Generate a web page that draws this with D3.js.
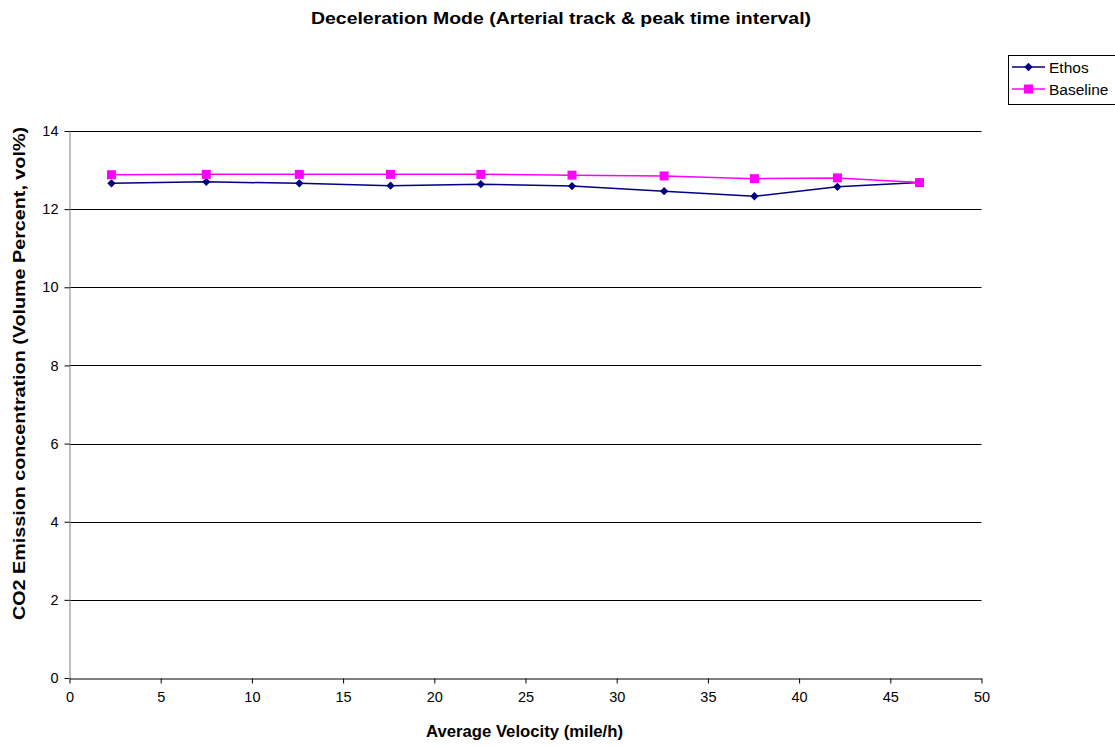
<!DOCTYPE html>
<html>
<head>
<meta charset="utf-8">
<script src="https://cdn.jsdelivr.net/npm/d3@7"></script>
<style>
  html, body { margin: 0; padding: 0; background: #fff; }
  svg { display: block; font-family: "Liberation Sans", Arial, sans-serif; }
</style>
</head>
<body>
<svg id="chart" width="1115" height="747"></svg>
<script>
// Average velocity (mile/h) for each speed bin
const velocity = [2.3, 7.5, 12.6, 17.6, 22.55, 27.55, 32.6, 37.55, 42.1, 46.6];
// CO2 emission concentration (vol%)
const ethos    = [12.66, 12.70, 12.66, 12.60, 12.64, 12.59, 12.46, 12.33, 12.57, 12.68];
const baseline = [12.88, 12.89, 12.89, 12.89, 12.89, 12.87, 12.85, 12.78, 12.80, 12.68];
const xTicks = [0, 5, 10, 15, 20, 25, 30, 35, 40, 45, 50];
const yTicks = [0, 2, 4, 6, 8, 10, 12, 14];

const svg = d3.select("#chart");
const m = { left: 69.5, right: 981.5, top: 131, bottom: 678 };

const x = d3.scaleLinear().domain([0, 50]).range([m.left, m.right]);
const y = d3.scaleLinear().domain([0, 14]).range([m.bottom, m.top]);

// Horizontal gridlines
svg.append("g")
  .selectAll("line")
  .data(yTicks.filter(d => d > 0))
  .join("line")
  .attr("x1", m.left).attr("x2", m.right)
  .attr("y1", d => Math.round(y(d)) + 0.5).attr("y2", d => Math.round(y(d)) + 0.5)
  .attr("stroke", "#000").attr("stroke-width", 1);

// Y axis
const yAxis = svg.append("g")
  .attr("transform", `translate(${m.left},0)`)
  .call(d3.axisLeft(y).tickValues(yTicks).tickSize(5).tickPadding(6).tickSizeOuter(0));
yAxis.select(".domain").attr("stroke", "#808080");
yAxis.selectAll(".tick line").attr("stroke", "#000");
yAxis.selectAll("text").attr("font-size", 14.5).attr("fill", "#000")
  .attr("font-family", "Liberation Sans, Arial, sans-serif");

// X axis
const xAxis = svg.append("g")
  .attr("transform", `translate(0,${m.bottom + 0.5})`)
  .call(d3.axisBottom(x).tickValues(xTicks).tickSize(5).tickPadding(8).tickSizeOuter(0));
xAxis.select(".domain").attr("stroke", "#000");
xAxis.selectAll(".tick line").attr("stroke", "#000");
xAxis.selectAll("text").attr("font-size", 14.5).attr("fill", "#000")
  .attr("font-family", "Liberation Sans, Arial, sans-serif");

// Series (Ethos drawn first so Baseline sits on top where they meet)
const series = [
  { name: "Ethos", values: ethos, color: "#000080", shape: d3.symbolDiamond2, size: 44 },
  { name: "Baseline", values: baseline, color: "#FF00FF", shape: d3.symbolSquare, size: 81 }
];

const line = d3.line().x((d, i) => x(velocity[i])).y(d => y(d));

series.forEach(s => {
  svg.append("path")
    .datum(s.values)
    .attr("fill", "none")
    .attr("stroke", s.color)
    .attr("stroke-width", 1.5)
    .attr("d", line);
  svg.append("g").selectAll("path")
    .data(s.values)
    .join("path")
    .attr("transform", (d, i) => `translate(${x(velocity[i])},${y(d)})`)
    .attr("d", d3.symbol().type(s.shape).size(s.size))
    .attr("fill", s.color);
});

// Title
svg.append("text")
  .attr("x", 311).attr("y", 24)
  .attr("font-size", 16.5).attr("font-weight", "bold")
  .attr("textLength", 500).attr("lengthAdjust", "spacingAndGlyphs")
  .text("Deceleration Mode (Arterial track & peak time interval)");

// Axis titles
svg.append("text")
  .attr("x", 426).attr("y", 737)
  .attr("font-size", 16).attr("font-weight", "bold")
  .attr("textLength", 197).attr("lengthAdjust", "spacingAndGlyphs")
  .text("Average Velocity (mile/h)");

svg.append("text")
  .attr("transform", `translate(25,620) rotate(-90)`)
  .attr("font-size", 16).attr("font-weight", "bold")
  .attr("textLength", 493).attr("lengthAdjust", "spacingAndGlyphs")
  .text("CO2 Emission concentration (Volume Percent, vol%)");

// Legend
const lg = svg.append("g");
lg.append("rect")
  .attr("x", 1008.5).attr("y", 55.5)
  .attr("width", 120).attr("height", 49)
  .attr("fill", "#fff").attr("stroke", "#000");
series.forEach((s, i) => {
  const cy = 67 + i * 22;
  lg.append("line")
    .attr("x1", 1012).attr("x2", 1045)
    .attr("y1", cy).attr("y2", cy)
    .attr("stroke", s.color).attr("stroke-width", 1.5);
  lg.append("path")
    .attr("transform", `translate(1028.5,${cy})`)
    .attr("d", d3.symbol().type(s.shape).size(s.size))
    .attr("fill", s.color);
  lg.append("text")
    .attr("x", 1049).attr("y", cy + 5.5)
    .attr("font-size", 15.5)
    .text(s.name);
});
</script>
</body>
</html>
